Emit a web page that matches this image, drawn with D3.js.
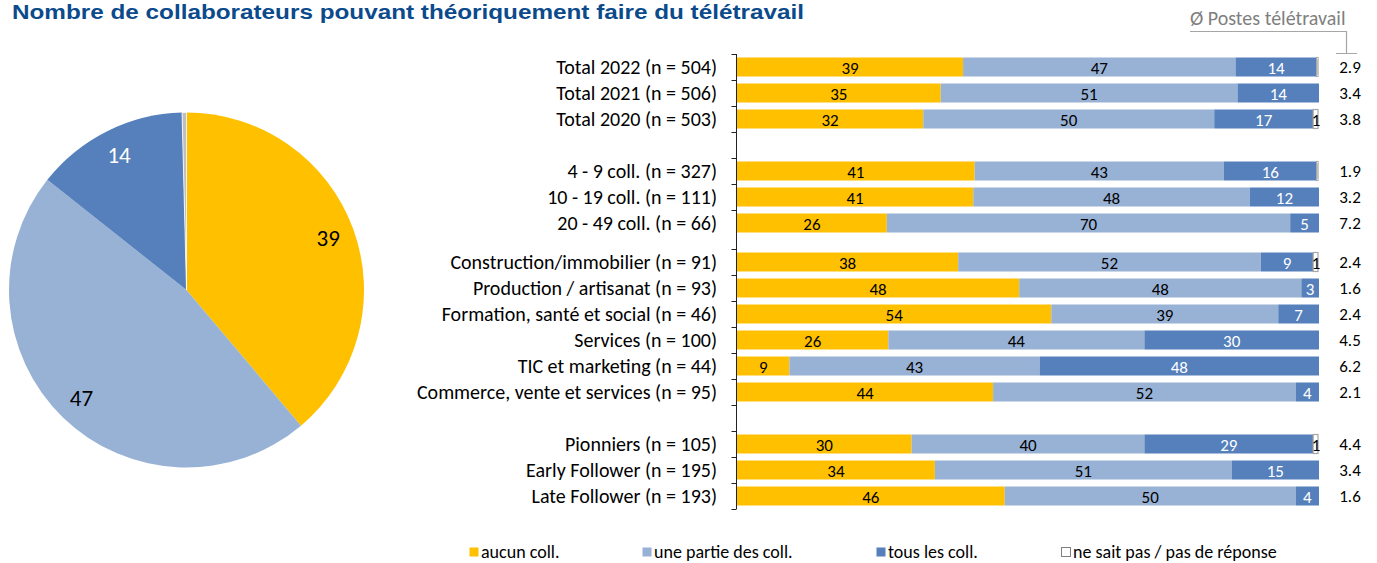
<!DOCTYPE html>
<html><head><meta charset="utf-8">
<script src="https://cdn.jsdelivr.net/npm/d3@7"></script>
<style>body{margin:0;background:#fff}svg{display:block}</style>
</head><body>
<svg id="chart" width="1377" height="563"></svg>
<script>
// ---- data ----
const categories = [
  "Total 2022 (n = 504)", "Total 2021 (n = 506)", "Total 2020 (n = 503)",
  "4 - 9 coll. (n = 327)", "10 - 19 coll. (n = 111)", "20 - 49 coll. (n = 66)",
  "Construction/immobilier (n = 91)", "Production / artisanat (n = 93)",
  "Formation, santé et social (n = 46)", "Services (n = 100)",
  "TIC et marketing (n = 44)", "Commerce, vente et services (n = 95)",
  "Pionniers (n = 105)", "Early Follower (n = 195)", "Late Follower (n = 193)"
];
const aucun  = [39, 35, 32, 41, 41, 26, 38, 48, 54, 26,  9, 44, 30, 34, 46];
const partie = [47, 51, 50, 43, 48, 70, 52, 48, 39, 44, 43, 52, 40, 51, 50];
const tous   = [14, 14, 17, 16, 12,  5,  9,  3,  7, 30, 48,  4, 29, 15,  4];
const nsp    = [0.4, 0, 1, 0.4, 0, 0, 1, 0, 0, 0, 0, 0, 1, 0, 0];
const avgPostes = ["2.9","3.4","3.8","1.9","3.2","7.2","2.4","1.6","2.4","4.5","6.2","2.1","4.4","3.4","1.6"];
const seriesNames = ["aucun coll.", "une partie des coll.", "tous les coll.", "ne sait pas / pas de réponse"];
const pieValues = [39, 47, 14, 0.4];
const titleText = "Nombre de collaborateurs pouvant théoriquement faire du télétravail";
const avgHeader = "Ø Postes télétravail";

// ---- styles ----
const colors = ["#FFC000", "#98B2D6", "#5580BB", "#FFFFFF"];
const labelColors = ["#000", "#000", "#fff", "#000"];
const FONT = "Carlito, Calibri, 'Liberation Sans', Arial, sans-serif";

const svg = d3.select("#chart");

// title
svg.append("text").attr("x", 12).attr("y", 19)
  .attr("font-family", "'Liberation Sans Narrow', 'Arial Narrow', 'Liberation Sans', Arial, sans-serif")
  .attr("font-weight", "bold").attr("font-size", 21)
  .attr("fill", "#0B4A8B")
  .attr("textLength", 792).attr("lengthAdjust", "spacingAndGlyphs")
  .text(titleText);

// ---- pie ----
const pieG = svg.append("g").attr("transform", "translate(186.5,290)");
const R = 177.5;
const arcs = d3.pie().sort(null).value(d => d)(pieValues);
const arc = d3.arc().innerRadius(0).outerRadius(R);
const labelArc = d3.arc().innerRadius(R * 0.85).outerRadius(R * 0.85);
pieG.selectAll("path").data(arcs).enter().append("path")
  .attr("d", arc)
  .attr("fill", (d, i) => i === 3 ? "#bfbfbf" : colors[i])
  .attr("stroke", (d, i) => i === 3 ? "#ffffff" : "none")
  .attr("stroke-width", 0.8);
pieG.selectAll("text").data(arcs.slice(0, 3)).enter().append("text")
  .attr("transform", d => `translate(${labelArc.centroid(d)})`)
  .attr("text-anchor", "middle").attr("dy", "0.35em")
  .attr("font-family", FONT).attr("font-size", 23)
  .attr("fill", (d, i) => labelColors[i])
  .text(d => d.data);

// ---- bars layout ----
const gapAfter = {2: 1, 5: 0.5, 11: 1};
let acc = 0;
const slots = categories.map((c, i) => { const s = i + acc; if (gapAfter[i]) acc += gapAfter[i]; return s; });
const lastSlot = slots[slots.length - 1] + 1;
const y = d3.scaleLinear().domain([0, lastSlot]).range([54, 509]);
const rowH = y(1) - y(0);
const barH = 19;
const x = d3.scaleLinear().domain([0, 1]).range([737, 1319]);

const rows = categories.map((c, i) => ({cat: c, i, v0: aucun[i], v1: partie[i], v2: tous[i], v3: nsp[i]}));
const stack = d3.stack().keys(["v0", "v1", "v2", "v3"]).offset(d3.stackOffsetExpand);
const stacked = stack(rows);

const barsG = svg.append("g");
stacked.forEach((layer, k) => {
  const g = barsG.append("g");
  g.selectAll("rect").data(layer.filter(d => d.data["v" + k] > 0)).enter().append("rect")
    .attr("x", d => x(d[0]))
    .attr("y", d => y(slots[d.data.i]) + (rowH - barH) / 2)
    .attr("width", d => Math.max(0, x(d[1]) - x(d[0]) - (k === 3 ? 1 : 0)))
    .attr("height", barH)
    .attr("fill", k === 3 ? "#ffffff" : colors[k])
    .attr("stroke", k === 3 ? "#a6a6a6" : "none")
    .attr("stroke-width", k === 3 ? 1.2 : 0);
  g.selectAll("text").data(layer.filter(d => d.data["v" + k] >= 0.5)).enter().append("text")
    .attr("x", d => (x(d[0]) + x(d[1])) / 2)
    .attr("y", d => y(slots[d.data.i]) + rowH / 2 + 1)
    .attr("dy", "0.35em").attr("text-anchor", "middle")
    .attr("font-family", FONT).attr("font-size", 17)
    .attr("fill", labelColors[k])
    .text(d => Math.round(d.data["v" + k]));
});

// axis
const tickVals = [];
slots.forEach((s, i) => {
  tickVals.push(s);
  if (gapAfter[i] === 1 || i === slots.length - 1) tickVals.push(s + 1);
});
const axisG = svg.append("g").attr("transform", "translate(736.5,0)")
  .call(d3.axisLeft(y).tickValues(tickVals).tickSize(5).tickFormat(""));
axisG.select(".domain").attr("stroke", "#222").attr("d", `M0,${y(0)}V${y(lastSlot)}`);
axisG.selectAll(".tick line").attr("stroke", "#222");

// category labels
svg.append("g").selectAll("text").data(categories).enter().append("text")
  .attr("x", 717).attr("y", (d, i) => y(slots[i]) + rowH / 2)
  .attr("dy", "0.35em").attr("text-anchor", "end")
  .attr("font-family", FONT).attr("font-size", 20).attr("fill", "#000")
  .text(d => d);

// averages
svg.append("g").selectAll("text").data(avgPostes).enter().append("text")
  .attr("x", 1350).attr("y", (d, i) => y(slots[i]) + rowH / 2)
  .attr("dy", "0.35em").attr("text-anchor", "middle")
  .attr("font-family", FONT).attr("font-size", 17).attr("fill", "#000")
  .text(d => d);

// avg header with bracket
svg.append("text").attr("x", 1190).attr("y", 25)
  .attr("font-family", FONT).attr("font-size", 20).attr("fill", "#7f7f7f")
  .text(avgHeader);
svg.append("path").attr("d", "M1190,31.5H1346.5V53.5M1336,53.5H1357")
  .attr("fill", "none").attr("stroke", "#a6a6a6").attr("stroke-width", 1.2);

// legend
const legendX = [469, 642, 876, 1061];
const lg = svg.append("g");
seriesNames.forEach((n, k) => {
  lg.append("rect").attr("x", legendX[k] + 0.5).attr("y", 547.5).attr("width", 9).attr("height", 9)
    .attr("fill", colors[k]).attr("stroke", k === 3 ? "#7f7f7f" : "none");
  lg.append("text").attr("x", legendX[k] + 12).attr("y", 558)
    .attr("font-family", FONT).attr("font-size", 18).attr("fill", "#000")
    .text(n);
});
</script>
</body></html>
